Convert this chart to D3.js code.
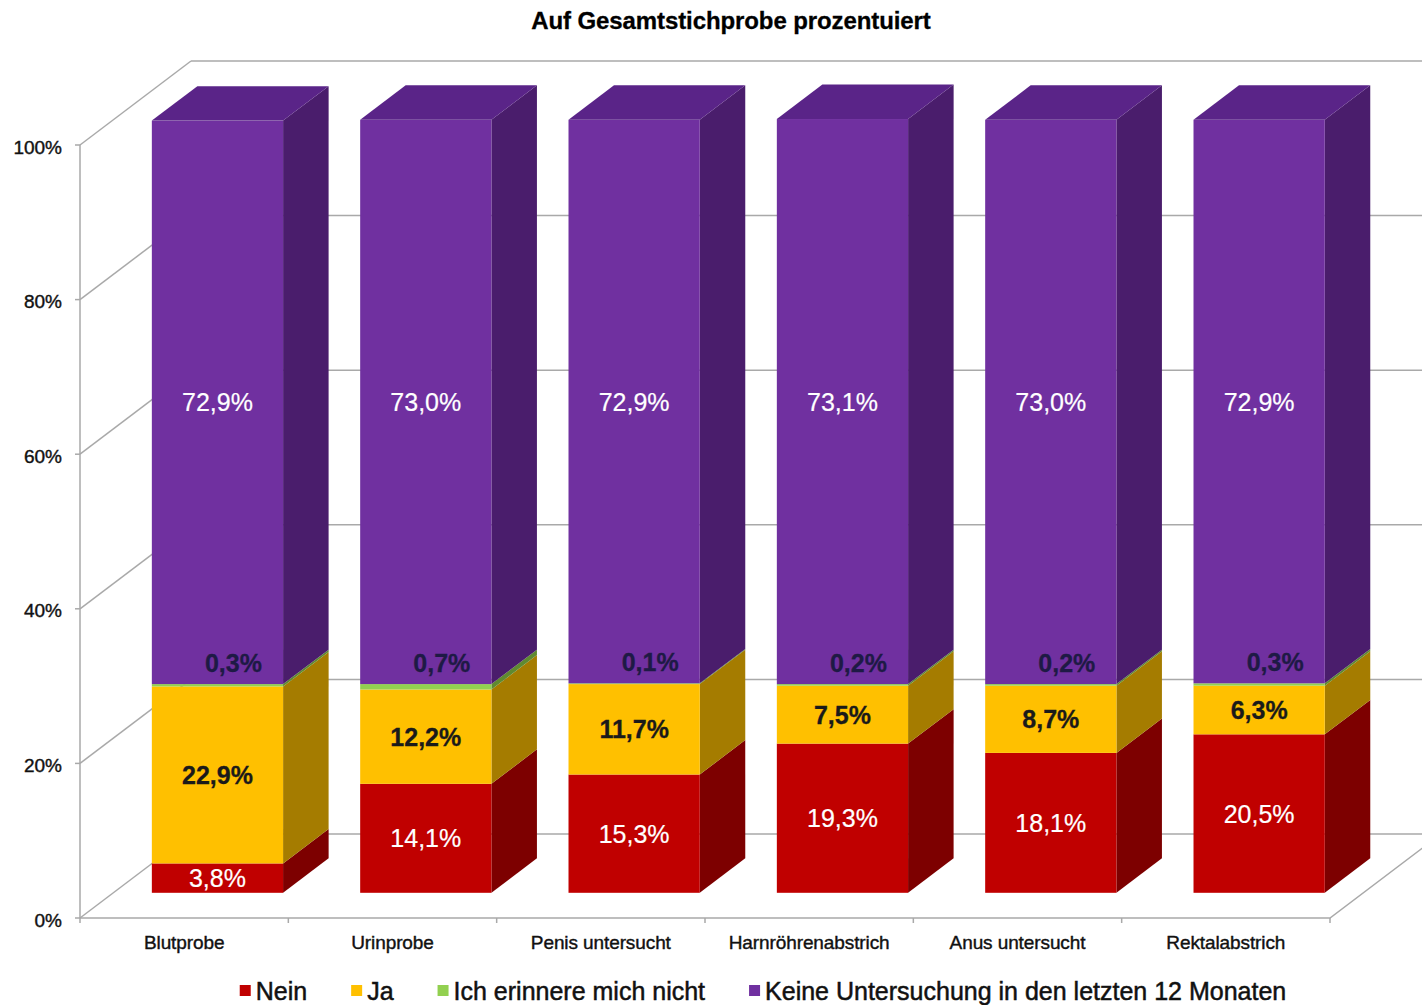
<!DOCTYPE html>
<html>
<head>
<meta charset="utf-8">
<script src="https://cdn.jsdelivr.net/npm/d3@7"></script>
<style>
  html, body { margin: 0; padding: 0; background: #fff; }
  svg { display: block; font-family: "Liberation Sans", Arial, sans-serif; }
</style>
</head>
<body>
<svg id="chart" width="1422" height="1005"></svg>
<script>
// Untersuchungen in den letzten 12 Monaten, auf Gesamtstichprobe prozentuiert
const categories = ["Blutprobe", "Urinprobe", "Penis untersucht", "Harnröhrenabstrich", "Anus untersucht", "Rektalabstrich"];
const seriesNames = ["Nein", "Ja", "Ich erinnere mich nicht", "Keine Untersuchung in den letzten 12 Monaten"];
const nein       = [3.8, 14.1, 15.3, 19.3, 18.1, 20.5];
const ja         = [22.9, 12.2, 11.7, 7.5, 8.7, 6.3];
const weissNicht = [0.3, 0.7, 0.1, 0.2, 0.2, 0.3];
const keine      = [72.9, 73.0, 72.9, 73.1, 73.0, 72.9];
const yTicks     = [0, 20, 40, 60, 80, 100];
const title      = "Auf Gesamtstichprobe prozentuiert";

// colours per series: front face, side face, top face, label colour, label weight
const style = {
  "Nein": { front: "#c00000", side: "#7d0000", top: "#a00000", label: "#ffffff", weight: "normal" },
  "Ja": { front: "#ffc000", side: "#a57c00", top: "#d9a300", label: "#1a1a1a", weight: "bold" },
  "Ich erinnere mich nicht": { front: "#92d050", side: "#5f8a30", top: "#7cb342", label: "#1e1a45", weight: "bold" },
  "Keine Untersuchung in den letzten 12 Monaten": { front: "#7030a0", side: "#4a1d6c", top: "#5a2488", label: "#ffffff", weight: "normal" }
};
const legendColors = ["#c00000", "#ffc000", "#92d050", "#7030a0"];

const rows = categories.map((c, i) => ({
  category: c,
  [seriesNames[0]]: nein[i],
  [seriesNames[1]]: ja[i],
  [seriesNames[2]]: weissNicht[i],
  [seriesNames[3]]: keine[i]
}));
const stacked = d3.stack().keys(seriesNames)(rows);

const svg = d3.select("#chart");

// front plane of the 3D box, depth offset for the back wall
const plotLeft = 80, plotRight = 1330;
const depthX = 111, depthY = -84;
const y = d3.scaleLinear().domain([0, 100]).range([918, 145]);
const x = d3.scaleBand().domain(categories).range([plotLeft, plotRight])
  .paddingInner(0.37).paddingOuter(0.185);
const step = x.step();
const barFront = 0.30, barBack = 0.71;   // bar depth position inside the box

const P = (px, v, d) => [px + d * depthX, y(v) + d * depthY];
const pts = arr => arr.map(p => p.join(",")).join(" ");

const grid = svg.append("g").attr("fill", "none").attr("stroke", "#a9a9a9").attr("stroke-width", 1.5);

// back wall gridlines and left wall diagonals
yTicks.forEach(t => {
  const b0 = P(plotLeft, t, 1), b1 = P(plotRight, t, 1), f0 = P(plotLeft, t, 0);
  grid.append("line").attr("x1", b0[0]).attr("y1", b0[1]).attr("x2", b1[0]).attr("y2", b1[1]);
  grid.append("line").attr("x1", f0[0]).attr("y1", f0[1]).attr("x2", b0[0]).attr("y2", b0[1]);
});

// floor front and right edges
{
  const a = P(plotLeft, 0, 0), b = P(plotRight, 0, 0), c = P(plotRight, 0, 1);
  grid.append("polyline").attr("points", pts([a, b, c]));
}
// vertical axis line
grid.append("line").attr("x1", plotLeft).attr("y1", y(0)).attr("x2", plotLeft).attr("y2", y(100));

// y ticks and labels
const fmtPct = d3.formatLocale({ decimal: ",", thousands: ".", grouping: [3], currency: ["", " €"] });
const fmt1 = v => fmtPct.format(".1f")(v) + "%";

yTicks.forEach(t => {
  grid.append("line").attr("x1", plotLeft - 5).attr("x2", plotLeft).attr("y1", y(t)).attr("y2", y(t));
  svg.append("text")
    .attr("x", 62).attr("y", y(t) + 2)
    .attr("text-anchor", "end").attr("dominant-baseline", "central")
    .attr("font-size", 19).attr("fill", "#111").attr("stroke", "#111").attr("stroke-width", 0.4)
    .text(t + "%");
});

// category ticks on the floor front edge
d3.range(categories.length + 1).forEach(k => {
  const xx = plotLeft + k * step;
  grid.append("line").attr("x1", xx).attr("x2", xx).attr("y1", y(0)).attr("y2", y(0) + 5);
});

// category labels
categories.forEach(c => {
  svg.append("text")
    .attr("x", x(c) + x.bandwidth() / 2).attr("y", 942)
    .attr("text-anchor", "middle").attr("dominant-baseline", "central")
    .attr("font-size", 19).attr("fill", "#111").attr("stroke", "#111").attr("stroke-width", 0.4)
    .attr("letter-spacing", -0.1)
    .text(c);
});

// bars
const bars = svg.append("g");
categories.forEach((c, i) => {
  const g = bars.append("g");
  const xl = x(c), xr = x(c) + x.bandwidth();
  stacked.forEach(layer => {
    const [v0, v1] = layer[i];
    const s = style[layer.key];
    // side face
    g.append("polygon")
      .attr("points", pts([P(xr, v0, barFront), P(xr, v0, barBack), P(xr, v1, barBack), P(xr, v1, barFront)]))
      .attr("fill", s.side);
  });
  stacked.forEach(layer => {
    const [v0, v1] = layer[i];
    const s = style[layer.key];
    const a = P(xl, v1, barFront), b = P(xr, v0, barFront);
    g.append("rect")
      .attr("x", a[0]).attr("y", a[1])
      .attr("width", b[0] - a[0]).attr("height", Math.max(0, b[1] - a[1]))
      .attr("fill", s.front);
  });
  // top face of the stack
  const last = stacked[stacked.length - 1];
  const vt = last[i][1];
  g.append("polygon")
    .attr("points", pts([P(xl, vt, barFront), P(xr, vt, barFront), P(xr, vt, barBack), P(xl, vt, barBack)]))
    .attr("fill", style[last.key].top);
});

// data labels
const labels = svg.append("g").attr("text-anchor", "middle").attr("font-size", 25);
categories.forEach((c, i) => {
  const cx = x(c) + x.bandwidth() / 2 + barFront * depthX;
  stacked.forEach((layer, li) => {
    const [v0, v1] = layer[i];
    const s = style[layer.key];
    const value = v1 - v0;
    let lx = cx, ly = (y(v0) + y(v1)) / 2 + barFront * depthY;
    if (li === 2) {           // tiny segment: label sits just above it
      lx = cx + 16;
      ly = y(v1) + barFront * depthY - 21;
    }
    labels.append("text")
      .attr("x", lx).attr("y", ly)
      .attr("dominant-baseline", "central")
      .attr("fill", s.label).attr("font-weight", s.weight)
      .attr("stroke", s.label).attr("stroke-width", s.weight === "bold" ? 0.3 : 0.2)
      .text(fmt1(value));
  });
});

// title
svg.append("text")
  .attr("x", 731).attr("y", 20)
  .attr("text-anchor", "middle").attr("dominant-baseline", "central")
  .attr("font-size", 24).attr("font-weight", "bold").attr("letter-spacing", -0.1)
  .attr("fill", "#000").attr("stroke", "#000").attr("stroke-width", 0.3)
  .text(title);

// legend
const legend = svg.append("g");
let lx = 0;
const items = seriesNames.map((n, i) => {
  const it = legend.append("g");
  it.append("rect").attr("x", 0).attr("y", -6).attr("width", 11).attr("height", 11).attr("fill", legendColors[i]);
  const t = it.append("text").attr("x", 16).attr("y", 0)
    .attr("dominant-baseline", "central").attr("font-size", 25)
    .attr("fill", "#111").attr("stroke", "#111").attr("stroke-width", 0.5)
    .text(n);
  const w = 16 + t.node().getComputedTextLength();
  const pos = lx;
  lx += w + 44;
  return { it, pos, w };
});
const totalW = lx - 44;
const startX = 763 - totalW / 2;
items.forEach(d => d.it.attr("transform", `translate(${startX + d.pos},991)`));
</script>
</body>
</html>
